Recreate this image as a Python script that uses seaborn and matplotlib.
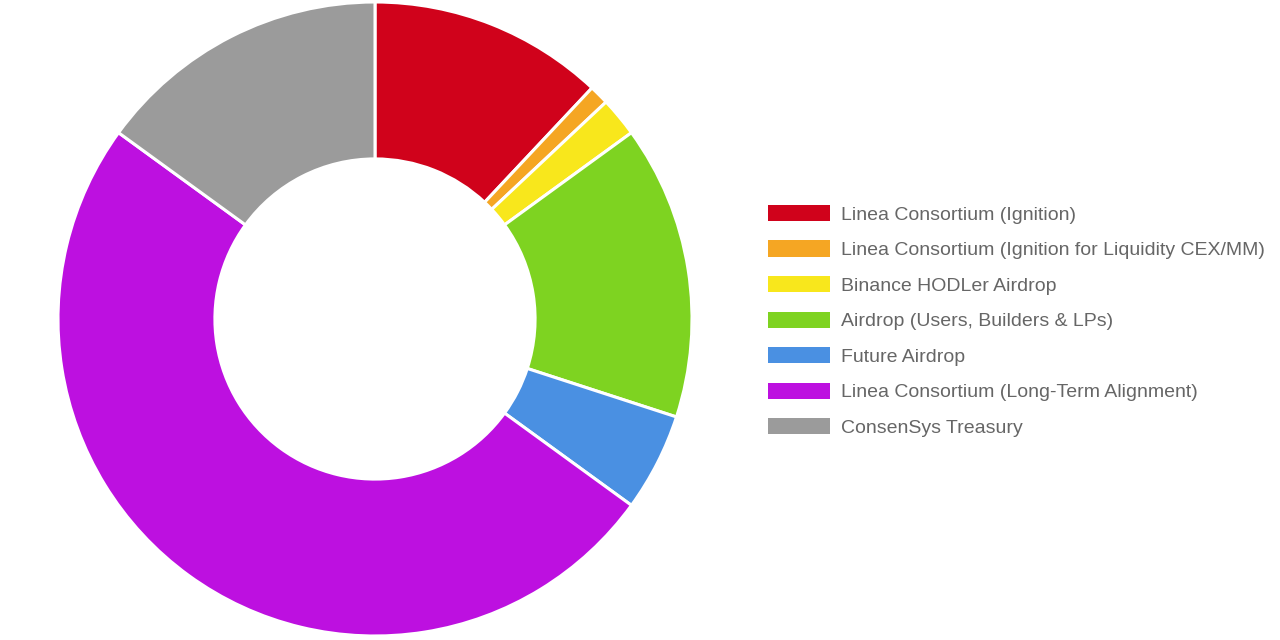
import matplotlib
matplotlib.use("Agg")
import matplotlib.pyplot as plt
import matplotlib.patches as mpatches
import seaborn as sns

sns.set_theme(style="white")
plt.rcParams['font.family'] = ['Liberation Sans', 'DejaVu Sans']

labels = [
    "Linea Consortium (Ignition)",
    "Linea Consortium (Ignition for Liquidity CEX/MM)",
    "Binance HODLer Airdrop",
    "Airdrop (Users, Builders & LPs)",
    "Future Airdrop",
    "Linea Consortium (Long-Term Alignment)",
    "ConsenSys Treasury",
]
shares = [12, 1, 2, 15, 5, 50, 15]
colors = ["#D0021B", "#F5A623", "#F8E71C", "#7ED321", "#4A90E2", "#BD10E0", "#9B9B9B"]

fig = plt.figure(figsize=(12.8, 6.4), dpi=100)
ax = fig.add_axes([58 / 1280, 4 / 640, 634 / 1280, 634 / 640])
ax.pie(shares, colors=colors, startangle=90, counterclock=False, radius=1,
       wedgeprops=dict(width=0.495, edgecolor="white", linewidth=2.2))
ax.set_xlim(-1.0, 1.0)
ax.set_ylim(-1.0, 1.0)
ax.set_aspect("equal")
ax.axis("off")

handles = [mpatches.Patch(facecolor=c, edgecolor="none") for c in colors]
leg = fig.legend(handles, labels, loc="upper left",
                 bbox_to_anchor=(768 / 1280, 1 - 205 / 640),
                 frameon=False, fontsize=14, handlelength=3.2, handleheight=0.9,
                 handletextpad=0.55, labelspacing=0.86, borderpad=0, borderaxespad=0)
for t in leg.get_texts():
    t.set_color("#666666")

fig.savefig("out.png", dpi=100, facecolor="white")
